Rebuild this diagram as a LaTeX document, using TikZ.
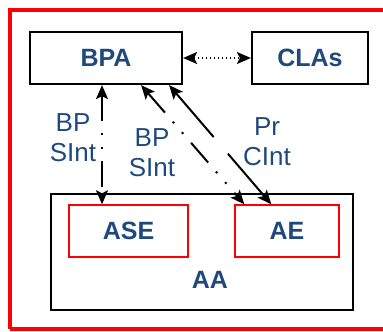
\documentclass[tikz,border=0pt]{standalone}
\usepackage{fontspec}
\setmainfont{Liberation Sans}
\usetikzlibrary{arrows.meta,calc}
\definecolor{txtblue}{RGB}{31,73,125}
\begin{document}
\begin{tikzpicture}[x=1pt,y=-1pt,
  box/.style={draw=black,line width=2.2pt,inner sep=0pt,font=\fontsize{25}{30}\selectfont\bfseries,text=txtblue},
  subbox/.style={draw=red,line width=1.4pt,inner sep=0pt,font=\fontsize{25}{30}\selectfont\bfseries,text=txtblue},
  lbl/.style={align=center,inner sep=0pt,font=\fontsize{26}{30}\selectfont,text=txtblue},
  tip/.style={{Stealth[length=14pt,width=12pt,inset=3pt]}-{Stealth[length=14pt,width=12pt,inset=3pt]}},
  link/.style={tip,line width=2pt},
  dashdotdot/.style={dash pattern=on 26pt off 12pt on 2pt off 12pt on 2pt off 12pt},
  longdash/.style={dash pattern=on 58pt off 22pt}
]
\useasboundingbox (0,0) rectangle (383,332);
% outer red frame
\draw[red,line width=4pt] (10,329) -- (10,10) -- (400,10);
\draw[red,line width=4pt] (10,329) -- (400,329);

% top row
\node[box,minimum width=152pt,minimum height=52pt] (BPA) at (106,58) {BPA};
\node[box,minimum width=116pt,minimum height=52pt] (CLAs) at (310,58) {CLAs};

% lower container with its two parts
\node[box,minimum width=302pt,minimum height=116pt] (AA) at (202,252) {};
\node[font=\fontsize{25}{30}\selectfont\bfseries,text=txtblue,inner sep=0pt] (AAlbl) at (210,280) {AA};
\node[subbox,minimum width=119pt,minimum height=52pt] (ASE) at (128.5,231) {ASE};
\node[subbox,minimum width=104pt,minimum height=52pt] (AE) at (287,231) {AE};

% connectors
\draw[link,dotted,line width=1.6pt,dash pattern=on 1.6pt off 2.4pt] (BPA.east) -- (CLAs.west);
\draw[link,dashdotdot] ([xshift=-4pt]BPA.south) -- ([xshift=-4pt]BPA.south |- ASE.north);
\draw[link,dashdotdot] ([xshift=-42pt]BPA.south east) -- ([xshift=10pt]AE.north west);
\draw[link,longdash] ([xshift=-14pt]BPA.south east) -- ([xshift=37pt]AE.north west);

% connector labels
\node[lbl] (l1) at (73,138) {BP\\SInt};
\node[lbl] (l2) at (152,153) {BP\\SInt};
\node[lbl] (l3) at (267,142) {Pr\\CInt};
\end{tikzpicture}
\end{document}
